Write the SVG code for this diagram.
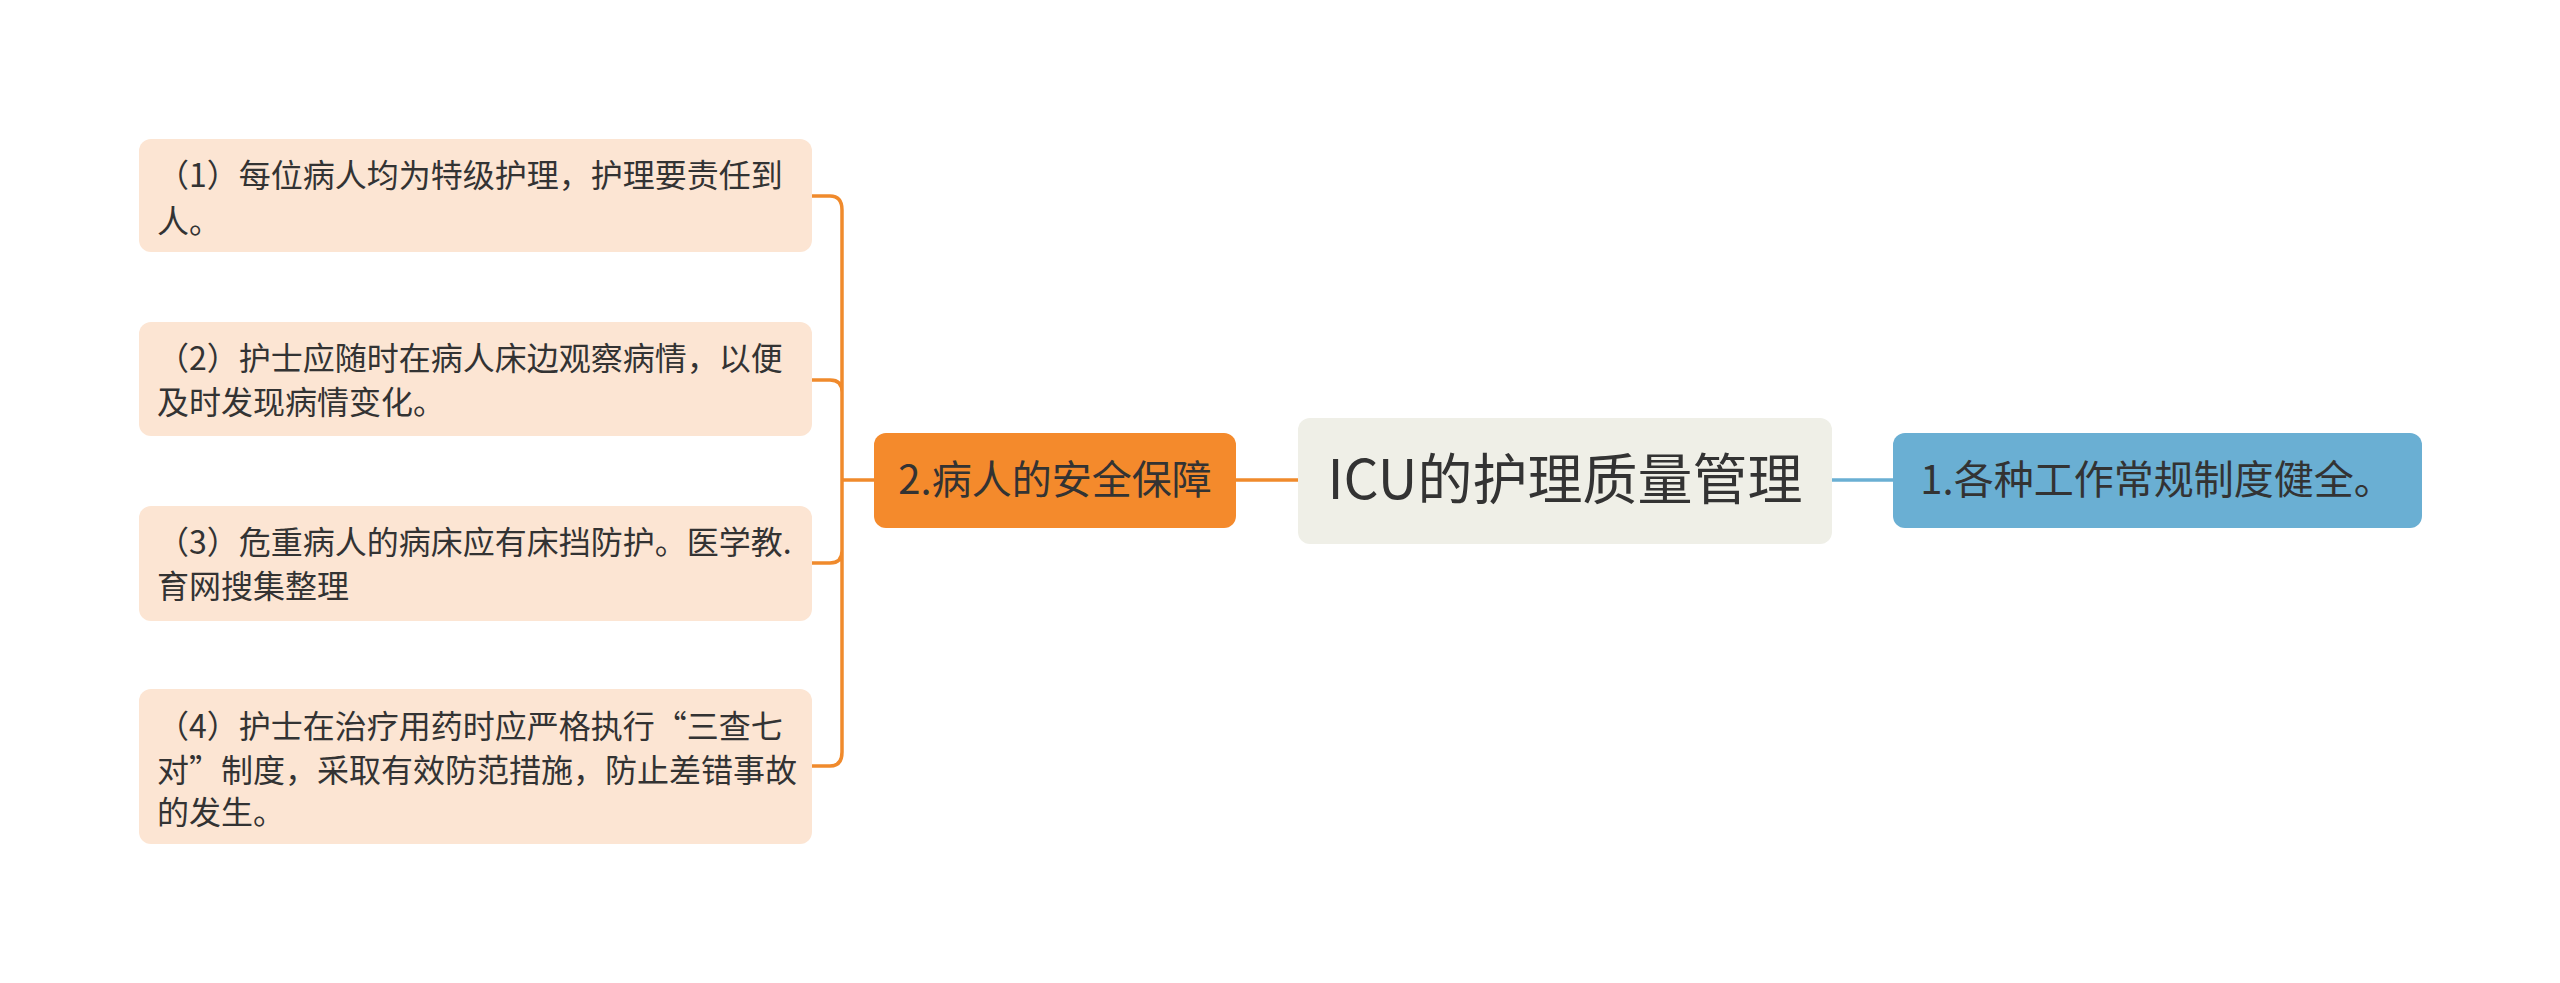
<svg xmlns="http://www.w3.org/2000/svg" width="2560" height="983" viewBox="0 0 2560 983">
<style>
text{font-family:"Noto Sans CJK SC","Noto Sans",sans-serif;fill:#333}
.leaf rect{fill:#fce5d3}
.leaf text{font-size:32px}
.c{fill:none;stroke-width:3.5}
</style>
<rect width="2560" height="983" fill="#fff"/>
<g id="connectors">
<path class="c" stroke="#f08a2c" d="M812 196 H830 Q842 196 842 210 V752 Q842 766 830 766 H812 M812 380 H830 Q842 380 842 392 M842 551 Q842 563 830 563 H812 M842 480 H874 M1236 480 H1298"/>
<path class="c" stroke="#6aafd3" d="M1832 480 H1893"/>
</g>
<g id="root"><rect x="1298" y="418" width="534" height="126" rx="12" fill="#efefe7"/><text x="1565" y="499" font-size="55" text-anchor="middle">ICU的护理质量管理</text></g>
<g id="n1"><rect x="1893" y="433" width="529" height="95" rx="12" fill="#6aafd3"/><text x="2157" y="494" font-size="40" text-anchor="middle">1.各种工作常规制度健全。</text></g>
<g id="n2"><rect x="874" y="433" width="362" height="95" rx="12" fill="#f48a2c"/><text x="1055" y="494" font-size="40" text-anchor="middle">2.病人的安全保障</text></g>
<g id="l1" class="leaf"><rect x="139" y="139" width="673" height="113" rx="12"/><text x="157" y="187">（1）每位病人均为特级护理，护理要责任到</text><text x="157" y="233">人。</text></g>
<g id="l2" class="leaf"><rect x="139" y="322" width="673" height="114" rx="12"/><text x="157" y="370">（2）护士应随时在病人床边观察病情，以便</text><text x="157" y="414">及时发现病情变化。</text></g>
<g id="l3" class="leaf"><rect x="139" y="506" width="673" height="115" rx="12"/><text x="157" y="554">（3）危重病人的病床应有床挡防护。医学教.</text><text x="157" y="598">育网搜集整理</text></g>
<g id="l4" class="leaf"><rect x="139" y="689" width="673" height="155" rx="12"/><text x="157" y="738">（4）护士在治疗用药时应严格执行“三查七</text><text x="157" y="782">对”制度，采取有效防范措施，防止差错事故</text><text x="157" y="824">的发生。</text></g>
</svg>
